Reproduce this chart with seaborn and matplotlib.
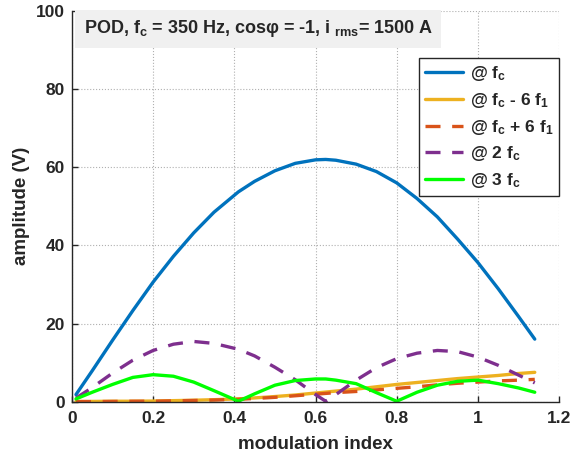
import numpy as np
import pandas as pd
import matplotlib
matplotlib.use('Agg')
import matplotlib.pyplot as plt
import seaborn as sns

# modulation index grid
mod_index = [0.01, 0.05, 0.1, 0.15, 0.2, 0.25, 0.3, 0.35, 0.41, 0.45, 0.5, 0.55, 0.6,
             0.625, 0.65, 0.7, 0.75, 0.8, 0.85, 0.9, 0.95, 1.0, 1.05, 1.1, 1.14]

# amplitudes (V)
amp_fc = [1.8, 7.9, 15.7, 23.3, 30.6, 37.2, 43.2, 48.5, 53.7, 56.4, 59.1, 61.0, 61.9,
          62.0, 61.8, 60.8, 58.9, 56.0, 52.0, 47.3, 41.6, 35.6, 28.9, 21.8, 16.0]
amp_fc_minus_6f1 = [0.05, 0.05, 0.1, 0.1, 0.15, 0.25, 0.35, 0.5, 0.7, 0.95, 1.3, 1.7, 2.2,
                    2.45, 2.7, 3.2, 3.8, 4.4, 4.9, 5.4, 5.9, 6.3, 6.7, 7.2, 7.5]
amp_fc_plus_6f1 = [0.0, 0.0, 0.05, 0.1, 0.1, 0.2, 0.3, 0.4, 0.6, 0.8, 1.1, 1.5, 1.9,
                   2.1, 2.3, 2.6, 3.0, 3.4, 3.8, 4.3, 4.7, 5.0, 5.3, 5.5, 5.7]
amp_2fc = [0.9, 3.6, 7.3, 10.6, 13.1, 14.7, 15.4, 14.9, 13.4, 11.7, 8.8, 5.6, 1.8,
           0.1, 1.8, 5.5, 8.7, 11.0, 12.4, 13.1, 12.8, 11.4, 9.3, 6.8, 4.8]
amp_3fc = [0.7, 2.4, 4.4, 6.2, 6.9, 6.5, 5.0, 2.8, 0.1, 2.0, 4.2, 5.4, 5.8,
           5.8, 5.5, 4.6, 2.3, 0.1, 2.4, 4.2, 5.2, 5.5, 4.6, 3.5, 2.4]

x_ticks = [0, 0.2, 0.4, 0.6, 0.8, 1.0, 1.2]
x_tick_labels = ['0', '0.2', '0.4', '0.6', '0.8', '1', '1.2']
y_ticks = [0, 20, 40, 60, 80, 100]

series = [
    ('@ f$_c$', amp_fc, '#0072BD', '-'),
    ('@ f$_c$ - 6 f$_1$', amp_fc_minus_6f1, '#EDB120', '-'),
    ('@ f$_c$ + 6 f$_1$', amp_fc_plus_6f1, '#D95319', (0, (4.5, 3.5))),
    ('@ 2 f$_c$', amp_2fc, '#7E2F8E', (0, (4.5, 3.5))),
    ('@ 3 f$_c$', amp_3fc, '#00FF00', '-'),
]

sns.set_style("whitegrid")
plt.rcParams['font.family'] = ['Liberation Sans', 'DejaVu Sans']
plt.rcParams['font.weight'] = 'bold'
plt.rcParams['mathtext.fontset'] = 'custom'
plt.rcParams['mathtext.rm'] = 'Liberation Sans:bold'
plt.rcParams['mathtext.it'] = 'Liberation Sans:bold'
plt.rcParams['mathtext.bf'] = 'Liberation Sans:bold'

fig, ax = plt.subplots(figsize=(5.8, 4.59), dpi=100)
fig.subplots_adjust(left=0.124, right=0.964, bottom=0.125, top=0.976)

for label, values, color, ls in series:
    df = pd.DataFrame({'m': mod_index, 'amp': values})
    sns.lineplot(data=df, x='m', y='amp', color=color, linewidth=2.4, linestyle=ls,
                 label=label, sort=False, estimator=None, ax=ax)

ax.set_xlim(0, 1.2)
ax.set_ylim(0, 100)
ax.set_xticks(x_ticks)
ax.set_xticklabels(x_tick_labels)
ax.set_yticks(y_ticks)
ax.tick_params(direction='in', length=4, width=1, labelsize=12.5, colors='#262626',
               left=True, bottom=True)
ax.tick_params(axis='x', pad=7)
ax.tick_params(axis='y', pad=5)
for lab in ax.get_xticklabels() + ax.get_yticklabels():
    lab.set_fontweight('bold')
ax.grid(True, linestyle=':', color='#b0b0b0', linewidth=0.8)
for side in ['top', 'right']:
    ax.spines[side].set_visible(False)
for side in ['left', 'bottom']:
    ax.spines[side].set_color('#262626')
    ax.spines[side].set_linewidth(1.0)

ax.set_xlabel('modulation index', fontsize=13.5, fontweight='bold', color='#262626',
              labelpad=7)
ax.set_ylabel('amplitude (V)', fontsize=13.5, fontweight='bold', color='#262626')

ax.text(0.024, 0.954, 'POD, f$_c$ = 350 Hz, cos\u03c6 = -1, i $_{rms}$= 1500 A',
        transform=ax.transAxes, fontsize=13, fontweight='bold', va='center', ha='left',
        bbox=dict(boxstyle='square,pad=0.45', facecolor='#f0f0f0', edgecolor='none'))

leg = ax.legend(loc='upper right', bbox_to_anchor=(1.0, 0.88), borderaxespad=0,
                fontsize=12.5, fancybox=False, framealpha=1, edgecolor='#262626',
                handlelength=2.2, handletextpad=0.35, labelspacing=0.45,
                borderpad=0.35)
leg.get_frame().set_linewidth(1.0)

plt.savefig('out.png', dpi=100)
plt.close()
